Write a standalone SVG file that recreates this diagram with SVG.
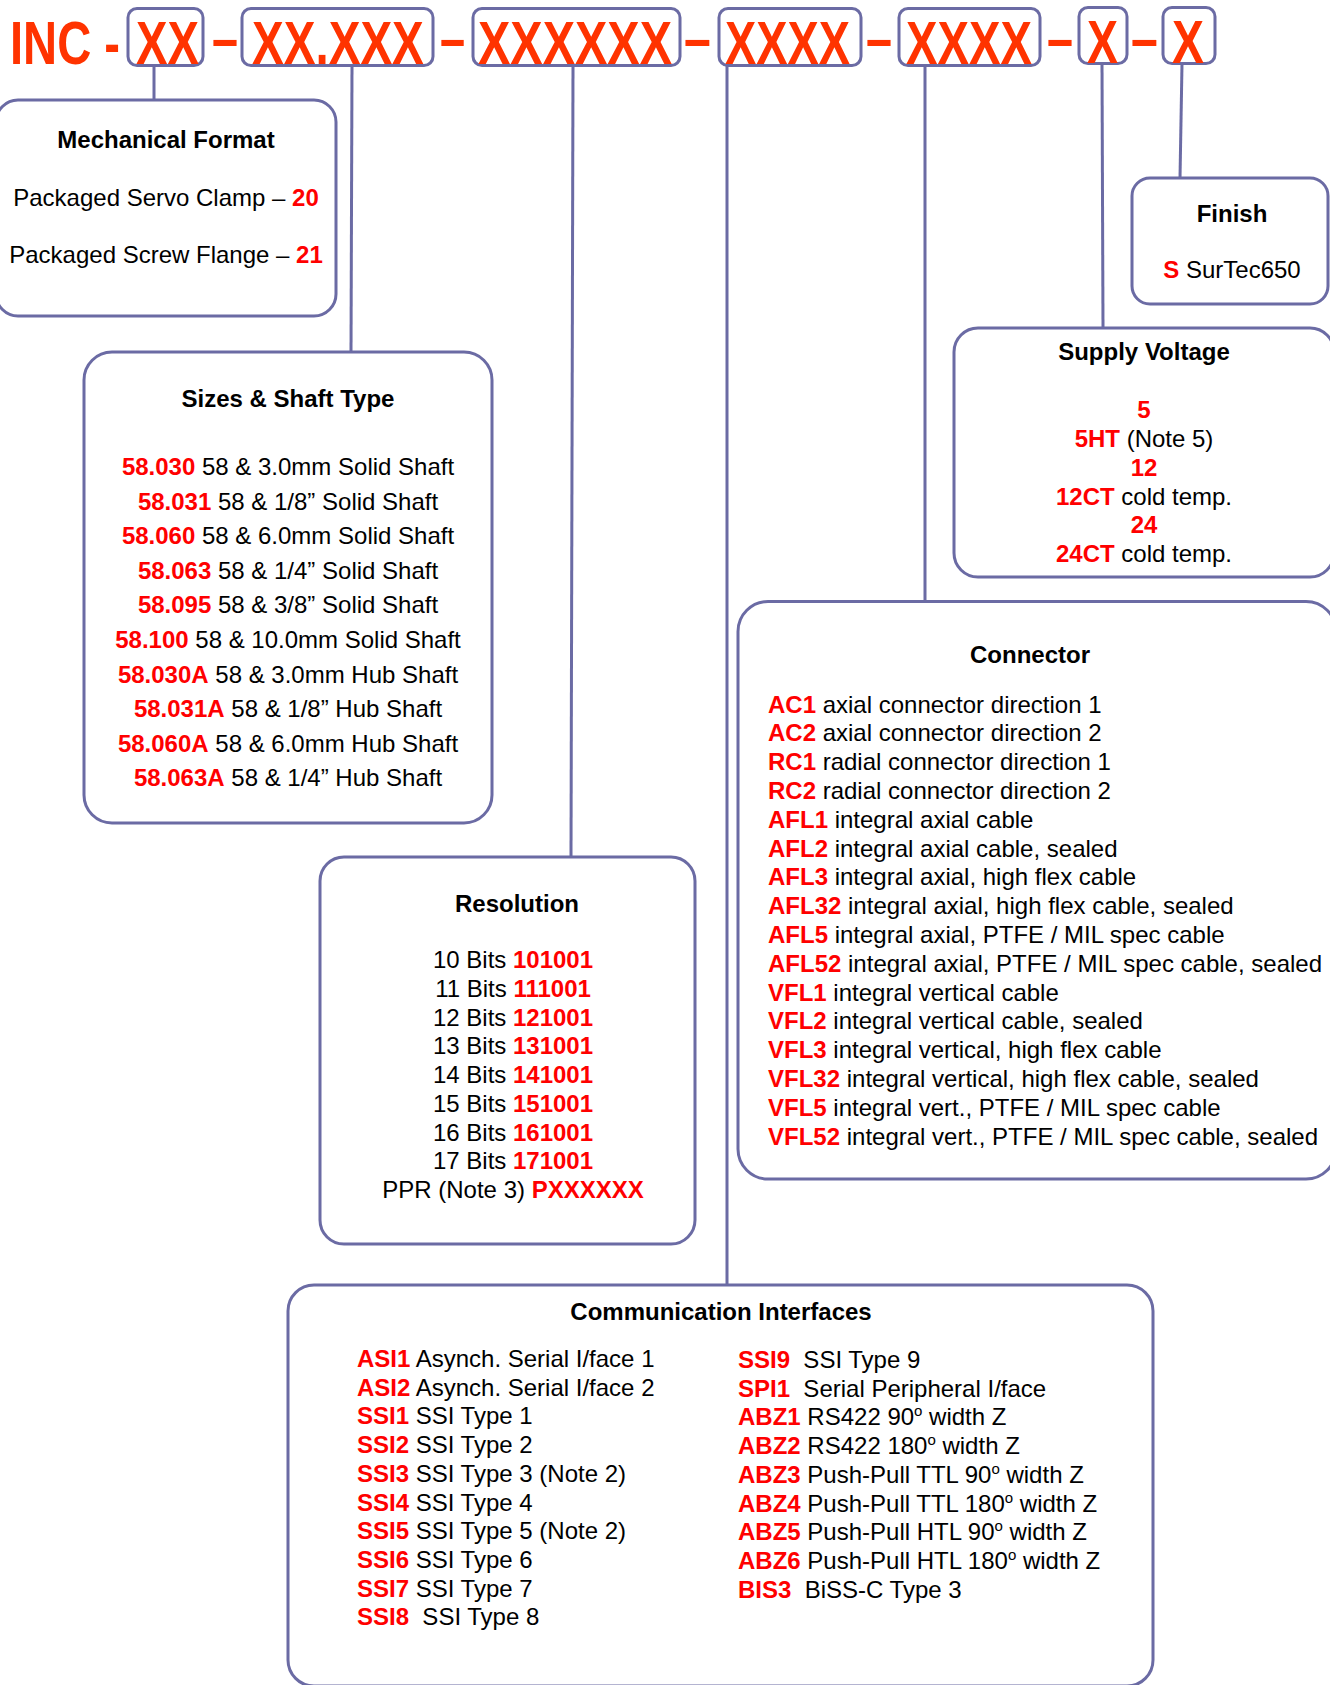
<svg xmlns="http://www.w3.org/2000/svg" width="1330" height="1685" viewBox="0 0 1330 1685">
<style>
.bg{fill:#fff}
.box{fill:#fff;stroke:#6B6BA4;stroke-width:3}
.conn line{stroke:#6B6BA4;stroke-width:3;fill:none}
.t{font-family:"Liberation Sans",Arial,sans-serif;font-size:24px;fill:#000}
.c{text-anchor:middle}
.b{font-weight:bold}
.r{fill:#FF0000;font-weight:bold}
.code{font-family:"Liberation Sans",Arial,sans-serif;font-weight:bold;font-size:61px;fill:#FF3300}
</style>
<rect class="bg" x="0" y="0" width="1330" height="1685"/>

<g id="connectors" class="conn">
<line x1="154" y1="66" x2="154" y2="100"/>
<line x1="352" y1="66" x2="351" y2="352"/>
<line x1="573" y1="66" x2="571" y2="857"/>
<line x1="727" y1="66" x2="727" y2="1285"/>
<line x1="925" y1="66" x2="925" y2="601"/>
<line x1="1102" y1="64" x2="1103" y2="328"/>
<line x1="1182" y1="64" x2="1180" y2="178"/>
</g>

<g id="code">
<text class="code" transform="translate(10 64) scale(0.773 1)">INC -</text>
<g id="seg1"><rect class="box" x="128" y="8.5" width="75" height="57" rx="9"/>
<text class="code" transform="translate(136 64) scale(0.774 1)">XX</text></g>
<text class="code" transform="translate(212 59) scale(0.767 1)">–</text>
<g id="seg2"><rect class="box" x="242" y="8.5" width="191" height="57" rx="9"/>
<text class="code" transform="translate(252 64) scale(0.780 1)">XX.XXX</text></g>
<text class="code" transform="translate(440 59) scale(0.74 1)">–</text>
<g id="seg3"><rect class="box" x="473" y="8.5" width="207" height="57" rx="9"/>
<text class="code" transform="translate(478 64) scale(0.795 1)">XXXXXX</text></g>
<text class="code" transform="translate(684 59) scale(0.79 1)">–</text>
<g id="seg4"><rect class="box" x="719" y="8.5" width="142" height="57" rx="9"/>
<text class="code" transform="translate(725 64) scale(0.768 1)">XXXX</text></g>
<text class="code" transform="translate(866 59) scale(0.767 1)">–</text>
<g id="seg5"><rect class="box" x="899" y="8.5" width="141" height="57" rx="9"/>
<text class="code" transform="translate(906 64) scale(0.774 1)">XXXX</text></g>
<text class="code" transform="translate(1047 59) scale(0.767 1)">–</text>
<g id="seg6"><rect class="box" x="1079" y="7.5" width="48" height="56" rx="9"/>
<text class="code" transform="translate(1087 63) scale(0.762 1)">X</text></g>
<text class="code" transform="translate(1131 59) scale(0.79 1)">–</text>
<g id="seg7"><rect class="box" x="1163" y="7.5" width="52" height="56" rx="9"/>
<text class="code" transform="translate(1172 63) scale(0.786 1)">X</text></g>
</g>

<g id="mechanical">
<rect class="box" x="-4" y="100" width="340" height="216" rx="22"/>
<text class="t c b" x="166" y="148">Mechanical Format</text>
<text class="t c" x="166" y="206">Packaged Servo Clamp – <tspan class="r">20</tspan></text>
<text class="t c" x="166" y="263">Packaged Screw Flange – <tspan class="r">21</tspan></text>
</g>

<g id="sizes">
<rect class="box" x="84" y="352" width="408" height="471" rx="28"/>
<text class="t c b" x="288" y="407">Sizes &amp; Shaft Type</text>
<text class="t c" x="288" y="475"><tspan class="r">58.030</tspan> 58 &amp; 3.0mm Solid Shaft</text>
<text class="t c" x="288" y="509.6"><tspan class="r">58.031</tspan> 58 &amp; 1/8” Solid Shaft</text>
<text class="t c" x="288" y="544.2"><tspan class="r">58.060</tspan> 58 &amp; 6.0mm Solid Shaft</text>
<text class="t c" x="288" y="578.8"><tspan class="r">58.063</tspan> 58 &amp; 1/4” Solid Shaft</text>
<text class="t c" x="288" y="613.4"><tspan class="r">58.095</tspan> 58 &amp; 3/8” Solid Shaft</text>
<text class="t c" x="288" y="648"><tspan class="r">58.100</tspan> 58 &amp; 10.0mm Solid Shaft</text>
<text class="t c" x="288" y="682.6"><tspan class="r">58.030A</tspan> 58 &amp; 3.0mm Hub Shaft</text>
<text class="t c" x="288" y="717.2"><tspan class="r">58.031A</tspan> 58 &amp; 1/8” Hub Shaft</text>
<text class="t c" x="288" y="751.8"><tspan class="r">58.060A</tspan> 58 &amp; 6.0mm Hub Shaft</text>
<text class="t c" x="288" y="786.4"><tspan class="r">58.063A</tspan> 58 &amp; 1/4” Hub Shaft</text>
</g>

<g id="resolution">
<rect class="box" x="320" y="857" width="375" height="387" rx="24"/>
<text class="t c b" x="517" y="912">Resolution</text>
<text class="t c" x="513" y="968">10 Bits <tspan class="r">101001</tspan></text>
<text class="t c" x="513" y="996.75">11 Bits <tspan class="r">111001</tspan></text>
<text class="t c" x="513" y="1025.5">12 Bits <tspan class="r">121001</tspan></text>
<text class="t c" x="513" y="1054.25">13 Bits <tspan class="r">131001</tspan></text>
<text class="t c" x="513" y="1083">14 Bits <tspan class="r">141001</tspan></text>
<text class="t c" x="513" y="1111.75">15 Bits <tspan class="r">151001</tspan></text>
<text class="t c" x="513" y="1140.5">16 Bits <tspan class="r">161001</tspan></text>
<text class="t c" x="513" y="1169.25">17 Bits <tspan class="r">171001</tspan></text>
<text class="t c" x="513" y="1198">PPR (Note 3) <tspan class="r">PXXXXXX</tspan></text>
</g>

<g id="finish">
<rect class="box" x="1132" y="178" width="196" height="126" rx="18"/>
<text class="t c b" x="1232" y="222">Finish</text>
<text class="t c" x="1232" y="278"><tspan class="r">S</tspan> SurTec650</text>
</g>

<g id="supply">
<rect class="box" x="954" y="328" width="380" height="249" rx="24"/>
<text class="t c b" x="1144" y="360">Supply Voltage</text>
<text class="t c r" x="1144" y="418">5</text>
<text class="t c" x="1144" y="447"><tspan class="r">5HT</tspan> (Note 5)</text>
<text class="t c r" x="1144" y="476">12</text>
<text class="t c" x="1144" y="505"><tspan class="r">12CT</tspan> cold temp.</text>
<text class="t c r" x="1144" y="533">24</text>
<text class="t c" x="1144" y="562"><tspan class="r">24CT</tspan> cold temp.</text>
</g>

<g id="connector">
<rect class="box" x="738" y="601.5" width="598" height="577.5" rx="30"/>
<text class="t c b" x="1030" y="663">Connector</text>
<text class="t" x="768" y="712.5"><tspan class="r">AC1</tspan> axial connector direction 1</text>
<text class="t" x="768" y="741.3"><tspan class="r">AC2</tspan> axial connector direction 2</text>
<text class="t" x="768" y="770.1"><tspan class="r">RC1</tspan> radial connector direction 1</text>
<text class="t" x="768" y="798.9"><tspan class="r">RC2</tspan> radial connector direction 2</text>
<text class="t" x="768" y="827.7"><tspan class="r">AFL1</tspan> integral axial cable</text>
<text class="t" x="768" y="856.5"><tspan class="r">AFL2</tspan> integral axial cable, sealed</text>
<text class="t" x="768" y="885.3"><tspan class="r">AFL3</tspan> integral axial, high flex cable</text>
<text class="t" x="768" y="914.1"><tspan class="r">AFL32</tspan> integral axial, high flex cable, sealed</text>
<text class="t" x="768" y="942.9"><tspan class="r">AFL5</tspan> integral axial, PTFE / MIL spec cable</text>
<text class="t" x="768" y="971.7"><tspan class="r">AFL52</tspan> integral axial, PTFE / MIL spec cable, sealed</text>
<text class="t" x="768" y="1000.5"><tspan class="r">VFL1</tspan> integral vertical cable</text>
<text class="t" x="768" y="1029.3"><tspan class="r">VFL2</tspan> integral vertical cable, sealed</text>
<text class="t" x="768" y="1058.1"><tspan class="r">VFL3</tspan> integral vertical, high flex cable</text>
<text class="t" x="768" y="1086.9"><tspan class="r">VFL32</tspan> integral vertical, high flex cable, sealed</text>
<text class="t" x="768" y="1115.7"><tspan class="r">VFL5</tspan> integral vert., PTFE / MIL spec cable</text>
<text class="t" x="768" y="1144.5"><tspan class="r">VFL52</tspan> integral vert., PTFE / MIL spec cable, sealed</text>
</g>

<g id="communication">
<rect class="box" x="288" y="1285" width="865" height="401" rx="26"/>
<text class="t c b" x="721" y="1320">Communication Interfaces</text>
<text class="t" x="357" y="1367"><tspan class="r">ASI1</tspan> Asynch. Serial I/face 1</text>
<text class="t" x="357" y="1395.7"><tspan class="r">ASI2</tspan> Asynch. Serial I/face 2</text>
<text class="t" x="357" y="1424.4"><tspan class="r">SSI1</tspan> SSI Type 1</text>
<text class="t" x="357" y="1453.1"><tspan class="r">SSI2</tspan> SSI Type 2</text>
<text class="t" x="357" y="1481.8"><tspan class="r">SSI3</tspan> SSI Type 3 (Note 2)</text>
<text class="t" x="357" y="1510.5"><tspan class="r">SSI4</tspan> SSI Type 4</text>
<text class="t" x="357" y="1539.2"><tspan class="r">SSI5</tspan> SSI Type 5 (Note 2)</text>
<text class="t" x="357" y="1567.9"><tspan class="r">SSI6</tspan> SSI Type 6</text>
<text class="t" x="357" y="1596.6"><tspan class="r">SSI7</tspan> SSI Type 7</text>
<text class="t" x="357" y="1625.3" xml:space="preserve"><tspan class="r">SSI8</tspan>  SSI Type 8</text>
<text class="t" x="738" y="1368" xml:space="preserve"><tspan class="r">SSI9</tspan>  SSI Type 9</text>
<text class="t" x="738" y="1396.7" xml:space="preserve"><tspan class="r">SPI1</tspan>  Serial Peripheral I/face</text>
<text class="t" x="738" y="1425.4"><tspan class="r">ABZ1</tspan> RS422 90<tspan font-size="15" dy="-9">o</tspan><tspan dy="9"> width Z</tspan></text>
<text class="t" x="738" y="1454.1"><tspan class="r">ABZ2</tspan> RS422 180<tspan font-size="15" dy="-9">o</tspan><tspan dy="9"> width Z</tspan></text>
<text class="t" x="738" y="1482.8"><tspan class="r">ABZ3</tspan> Push-Pull TTL 90<tspan font-size="15" dy="-9">o</tspan><tspan dy="9"> width Z</tspan></text>
<text class="t" x="738" y="1511.5"><tspan class="r">ABZ4</tspan> Push-Pull TTL 180<tspan font-size="15" dy="-9">o</tspan><tspan dy="9"> width Z</tspan></text>
<text class="t" x="738" y="1540.2"><tspan class="r">ABZ5</tspan> Push-Pull HTL 90<tspan font-size="15" dy="-9">o</tspan><tspan dy="9"> width Z</tspan></text>
<text class="t" x="738" y="1568.9"><tspan class="r">ABZ6</tspan> Push-Pull HTL 180<tspan font-size="15" dy="-9">o</tspan><tspan dy="9"> width Z</tspan></text>
<text class="t" x="738" y="1597.6" xml:space="preserve"><tspan class="r">BIS3</tspan>  BiSS-C Type 3</text>
</g>
</svg>
